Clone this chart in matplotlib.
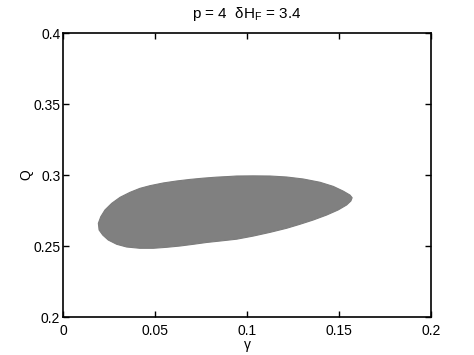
import numpy as np
import matplotlib.pyplot as plt

plt.rcParams['font.family'] = ['Liberation Sans', 'DejaVu Sans']
plt.rcParams['mathtext.fontset'] = 'custom'
plt.rcParams['mathtext.rm'] = 'Liberation Sans'

# boundary of the filled region (gamma, Q), traced clockwise from the left end
gamma = [0.0192, 0.0205, 0.0228, 0.0265, 0.0310, 0.0364, 0.0418, 0.0473,
         0.0545, 0.0618, 0.0690, 0.0763, 0.0835, 0.0908, 0.0944, 0.1034,
         0.1125, 0.1216, 0.1306, 0.1397, 0.1469, 0.1523, 0.1560, 0.1572,
         0.1565, 0.1542, 0.1496, 0.1433, 0.1360, 0.1288, 0.1216, 0.1125,
         0.1034, 0.0944, 0.0853, 0.0781, 0.0708, 0.0636, 0.0564, 0.0491,
         0.0418, 0.0346, 0.0292, 0.0246, 0.0216, 0.0196]
Q = [0.2660, 0.2706, 0.2754, 0.2801, 0.2843, 0.2878, 0.2906, 0.2925,
     0.2944, 0.2958, 0.2969, 0.2978, 0.2985, 0.2990, 0.2993, 0.2994,
     0.2993, 0.2986, 0.2972, 0.2949, 0.2920, 0.2887, 0.2859, 0.2840,
     0.2817, 0.2789, 0.2754, 0.2718, 0.2683, 0.2653, 0.2625, 0.2596,
     0.2570, 0.2548, 0.2535, 0.2525, 0.2512, 0.2500, 0.2491, 0.2484,
     0.2484, 0.2493, 0.2512, 0.2542, 0.2577, 0.2613]

xticks = [0, 0.05, 0.1, 0.15, 0.2]
xticklabels = ['0', '0.05', '0.1', '0.15', '0.2']
yticks = [0.2, 0.25, 0.3, 0.35, 0.4]
yticklabels = ['0.2', '0.25', '0.3', '0.35', '0.4']

fig = plt.figure(figsize=(4.74, 3.55), dpi=100)
ax = fig.add_axes([0.133, 0.107, 0.776, 0.800])

ax.fill(gamma, Q, color='#808080', lw=0.8, ec='#7c7c7c')

ax.set_xlim(0, 0.2)
ax.set_ylim(0.2, 0.4)
ax.set_xticks(xticks)
ax.set_xticklabels(xticklabels)
ax.set_yticks(yticks)
ax.set_yticklabels(yticklabels)
ax.tick_params(direction='in', top=True, right=True, length=4, width=1,
               labelsize=10)
ax.tick_params(axis='x', pad=5)
ax.tick_params(axis='y', pad=2)
for s in ax.spines.values():
    s.set_linewidth(1.2)

ax.set_xlabel('γ', fontsize=10, labelpad=0)
ax.set_ylabel('Q', fontsize=10, labelpad=0)
ax.set_title(r'p = 4  δH$_\mathrm{F}$ = 3.4', fontsize=11, pad=11)

fig.savefig('out.png', dpi=100)
